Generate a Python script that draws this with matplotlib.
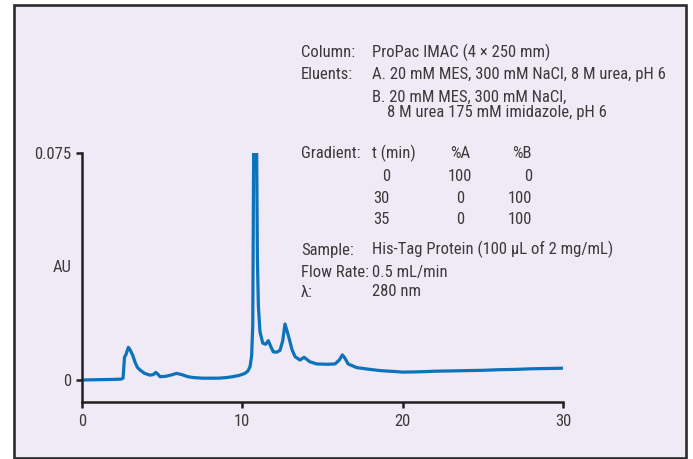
import matplotlib
matplotlib.use("Agg")
import matplotlib.pyplot as plt
from matplotlib.patches import Rectangle

# ---------------- data ----------------
time_min = [0, 1.0, 2.0, 2.45, 2.56, 2.65, 2.75, 2.89, 3.0, 3.16, 3.3, 3.45, 3.62, 3.9, 4.24,
            4.45, 4.6, 4.75, 4.87, 5.2, 5.6, 5.9, 6.2, 6.6, 6.95, 7.5, 8.0, 8.5, 9.0, 9.4,
            9.8, 10.17, 10.35, 10.48, 10.58, 10.65, 10.72, 10.8, 10.88, 10.94, 11.0, 11.1,
            11.27, 11.45, 11.62, 11.78, 11.93, 12.15, 12.35, 12.52, 12.66, 12.8, 12.93,
            13.1, 13.29, 13.6, 13.85, 14.22, 14.64, 15.26, 15.78, 16.05, 16.24, 16.4,
            16.6, 17.13, 17.97, 18.6, 19.5, 20.0, 21.0, 22.0, 23.0, 24.0, 25.0, 26.0,
            27.0, 28.0, 29.0, 30.0]
absorb_au = [0.0, 0.0001, 0.0002, 0.0003, 0.0006, 0.0075, 0.0085, 0.0108, 0.0100, 0.0082,
             0.0060, 0.0042, 0.0033, 0.0022, 0.0016, 0.0018, 0.0025, 0.0018, 0.0011, 0.0012,
             0.0017, 0.0022, 0.0018, 0.0011, 0.0008, 0.0006, 0.0006, 0.0006, 0.0008, 0.0011,
             0.0015, 0.0022, 0.0030, 0.0044, 0.0080, 0.0180, 0.0900, 0.1200, 0.0850, 0.0400,
             0.0245, 0.0160, 0.0122, 0.0118, 0.0130, 0.0110, 0.0093, 0.0092, 0.0098, 0.0130,
             0.0185, 0.0160, 0.0135, 0.0100, 0.0077, 0.0066, 0.0075, 0.0060, 0.0053, 0.0052,
             0.0053, 0.0066, 0.0083, 0.0072, 0.0053, 0.0041, 0.0035, 0.0031, 0.0028, 0.0026,
             0.0027, 0.0029, 0.0030, 0.0031, 0.0032, 0.0034, 0.0035, 0.0037, 0.0038, 0.0039]

x_ticks = [0, 10, 20, 30]
y_ticks = [0, 0.075]
y_tick_labels = ["0", "0.075"]
y_label = "AU"

info_rows = [
    ("Column:", "ProPac IMAC (4 \u00d7 250 mm)"),
    ("Eluents:", "A. 20 mM MES, 300 mM NaCl, 8 M urea, pH 6"),
    ("", "B. 20 mM MES, 300 mM NaCl,"),
]
eluent_b_cont = "8 M urea 175 mM imidazole, pH 6"
grad_header = ["t (min)", "%A", "%B"]
grad_t = ["0", "30", "35"]
grad_a = ["100", "0", "0"]
grad_b = ["0", "100", "100"]
info_rows2 = [
    ("Sample:", "His-Tag Protein (100 \u00b5L of 2 mg/mL)"),
    ("Flow Rate:", "0.5 mL/min"),
    ("\u03bb:", "280 nm"),
]

# ---------------- style ----------------
W, H = 693, 459
plt.rcParams["font.family"] = ["Roboto Condensed", "DejaVu Sans"]
TXT = "#3a3a3a"
BG = "#efeaf5"
LINE = "#0b72bb"
FS = 12

fig = plt.figure(figsize=(W / 100, H / 100), dpi=100, facecolor="white")

def fx(px):
    return px / W

def fy(py):
    return 1 - py / H

# border panel (behind everything)
fig.patches.append(Rectangle((fx(14), fy(457.7)), fx(685.7) - fx(14), fy(4.7) - fy(457.7),
                             transform=fig.transFigure, facecolor=BG, edgecolor="#2b2b2b",
                             linewidth=1.9, zorder=-5))

ax = fig.add_axes([fx(82), fy(402), fx(563) - fx(82), fy(153) - fy(402)])
ax.set_zorder(2)
ax.set_facecolor("none")
ax.plot(time_min, absorb_au, color=LINE, linewidth=2.3, solid_joinstyle="round")
ax.set_xlim(0, 30)
ax.set_ylim(-0.00727, 0.075)
for s in ["top", "right"]:
    ax.spines[s].set_visible(False)
for s in ["left", "bottom"]:
    ax.spines[s].set_color("#231f20")
    ax.spines[s].set_linewidth(1.8)
ax.set_xticks(x_ticks)
ax.set_xticklabels([str(v) for v in x_ticks])
ax.set_yticks(y_ticks)
ax.set_yticklabels(y_tick_labels)
ax.tick_params(axis="both", colors="#231f20", labelcolor=TXT, labelsize=FS,
               length=4, width=1.8, direction="out")
ax.tick_params(axis="x", pad=5)
ax.tick_params(axis="y", pad=4)

fig.text(fx(72), fy(272), y_label, ha="right", va="baseline", fontsize=FS, color=TXT)

LX, VX = 301, 372
def t(x, y, s, ha="left"):
    fig.text(fx(x), fy(y), s, ha=ha, va="baseline", fontsize=FS, color=TXT)

base1 = [56.7, 79.2, 101.7]
for (lab, val), yb in zip(info_rows, base1):
    if lab:
        t(LX, yb, lab)
    t(VX, yb, val)
t(387, 117, eluent_b_cont)

t(LX, 158, "Gradient:")
t(VX, 158, grad_header[0])
t(460, 158, grad_header[1], ha="center")
t(532, 158, grad_header[2], ha="right")
for tv, av, bv, yb in zip(grad_t, grad_a, grad_b, [180.7, 203.3, 224.5]):
    t(390, yb, tv, ha="right")
    t(460, yb, av, ha="center")
    t(532, yb, bv, ha="right")

for (lab, val), yb in zip(info_rows2, [254.5, 277, 296.5]):
    t(LX, yb, lab)
    t(VX, yb, val)

fig.savefig("out.png", dpi=100, facecolor="white")
